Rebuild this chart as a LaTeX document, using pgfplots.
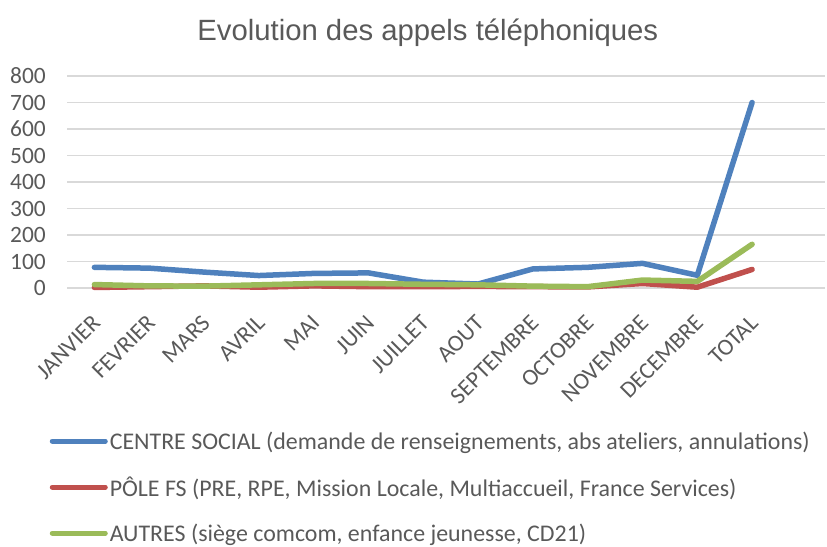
\documentclass[border=0pt]{standalone}
\usepackage{pgfplots}
\pgfplotsset{compat=1.18}
\usepackage{fontspec}
\setmainfont{Carlito}
\newfontfamily\titlefont{Liberation Sans}
\definecolor{cblue}{HTML}{4F81BD}
\definecolor{cred}{HTML}{C0504D}
\definecolor{cgreen}{HTML}{9BBB59}
\definecolor{ctext}{HTML}{595959}
\definecolor{cgrid}{HTML}{D9D9D9}
\begin{document}
\begin{tikzpicture}
\begin{axis}[
  scale only axis,
  width=758bp, height=212bp,
  xmin=-0.5, xmax=13.33,
  ymin=0, ymax=800,
  ytick={0,100,...,800},
  xtick={0,...,12},
  xticklabels={JANVIER,FEVRIER,MARS,AVRIL,MAI,JUIN,JUILLET,AOUT,SEPTEMBRE,OCTOBRE,NOVEMBRE,DECEMBRE,TOTAL},
  axis line style={draw=none},
  major tick length=0pt,
  ymajorgrids,
  grid style={cgrid, line width=1.5bp},
  tick label style={font=\fontsize{23.5}{26}\selectfont, text=ctext},
  /pgf/number format/assume math mode=true,
  yticklabel style={anchor=east, xshift=-21bp, inner sep=0pt},
  xticklabel style={xshift=2bp, yshift=-31bp, rotate=45, anchor=east, inner sep=0pt},
  title={\titlefont\fontsize{29.4}{33}\selectfont Evolution des appels téléphoniques},
  title style={at={(0.476,1.177)}, anchor=center, text=ctext},
  legend style={at={(-0.023,-0.667)}, anchor=north west, draw=none, fill=none,
    font=\fontsize{24}{28}\selectfont, text=ctext, row sep=22bp, inner sep=0pt,
    /tikz/every even column/.append style={column sep=0pt}},
  legend cell align=left,
  legend image code/.code={\draw[#1, line width=5bp, line cap=round] (0bp,0bp) -- (53bp,0bp);},
  every axis plot/.append style={line width=5.5bp, line join=round, line cap=round, mark=none},
  clip=false,
]
\addplot[cblue] coordinates {(0,78) (1,75) (2,60) (3,47) (4,55) (5,57) (6,22) (7,15) (8,72) (9,78) (10,93) (11,48) (12,700)};
\addlegendentry{CENTRE SOCIAL (demande de renseignements, abs ateliers, annulations)}
\addplot[cred] coordinates {(0,2) (1,5) (2,8) (3,3) (4,8) (5,5) (6,5) (7,6) (8,5) (9,4) (10,17) (11,3) (12,70)};
\addlegendentry{PÔLE FS (PRE, RPE, Mission Locale, Multiaccueil, France Services)}
\addplot[cgreen] coordinates {(0,13) (1,8) (2,7) (3,12) (4,17) (5,17) (6,14) (7,12) (8,7) (9,5) (10,30) (11,25) (12,165)};
\addlegendentry{AUTRES (siège comcom, enfance jeunesse, CD21)}
\end{axis}
\pgfresetboundingbox
\path (-67bp,-259bp) rectangle (760bp,288bp);
\end{tikzpicture}
\end{document}
